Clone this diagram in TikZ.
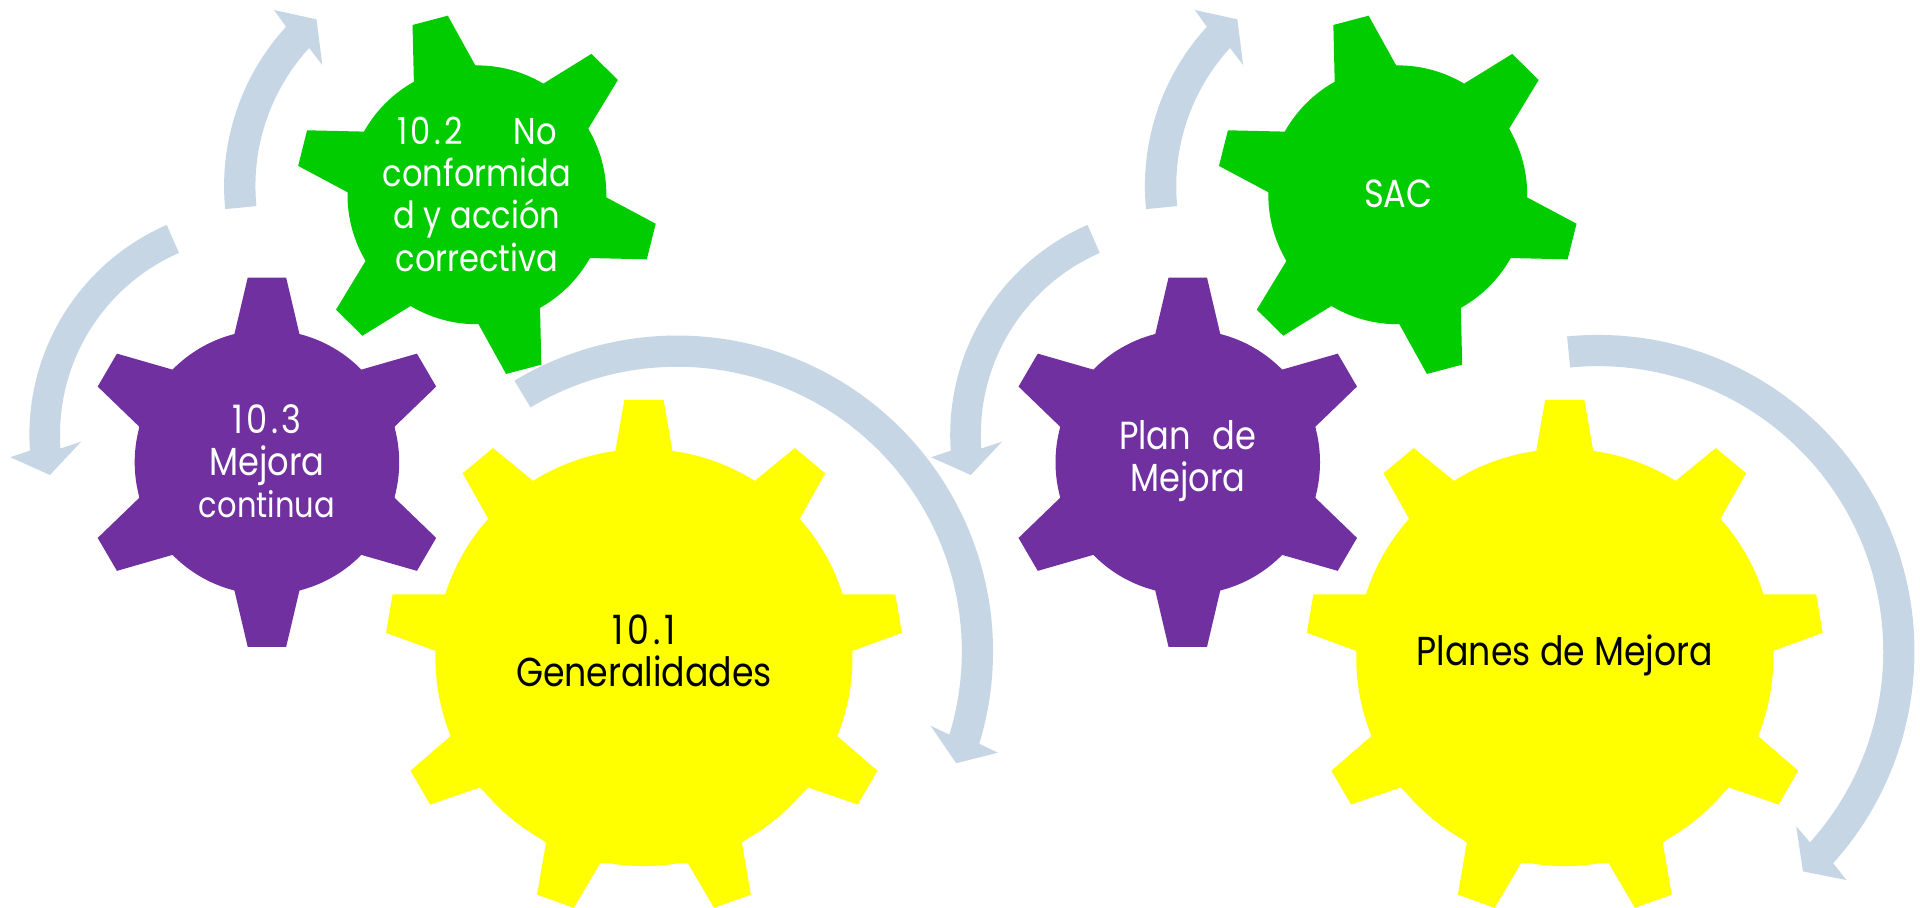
\documentclass[tikz,border=0pt]{standalone}
\usepackage{fontspec}
\setmainfont{Poppins}[FakeStretch=0.86]
\definecolor{arrowblue}{HTML}{C7D6E5}
\definecolor{gearpurple}{HTML}{7030A0}
\definecolor{geargreen}{HTML}{00CC00}
\definecolor{gearyellow}{HTML}{FFFF00}
\newcommand{\digits}[1]{{\addfontfeature{LetterSpace=9}#1}}
\tikzset{
  gearlabel/.style={align=center,inner sep=0pt,font=\fontsize{32}{34.5}\selectfont},
  whitelabel/.style={gearlabel,text=white},
  narrowlabel/.style={gearlabel,text=white,font=\fontsize{30.5}{34.5}\selectfont},
  blacklabel/.style={gearlabel,text=black,font=\fontsize{33}{34.5}\selectfont},
  arrowshape/.style={fill=arrowblue,draw=none}
}
% ring arrow: cx, cy, outer r, inner r, start angle, end angle, head (outer barb, tip, inner barb)
\newcommand{\ringarrow}[9]{%
  \fill[arrowshape] plot[domain=#5:#6,samples=90] ({#1+#3*cos(\x)},{#2+#3*sin(\x)})
    -- #7 -- #8 -- #9
    -- plot[domain=#6:#5,samples=90] ({#1+#4*cos(\x)},{#2+#4*sin(\x)}) -- cycle;}
\newcommand{\greengear}{%
  \fill[geargreen] (389.5,159.1) circle[radius=105.7pt];
  \fill[geargreen] (338,67)--(336.9,20.4)--(365.7,12.8)--(388.3,53.6)
    --(443.7,68.3)--(483,44)--(504.6,65.3)--(480.5,105)
    --(494.6,160.9)--(535.5,182.7)--(528.2,211.8)--(481.1,210.7)
    --(441,251.2)--(442.1,297.8)--(413.3,305.4)--(390.7,264.6)
    --(335.3,249.9)--(296,274.2)--(274.4,252.9)--(298.5,213.2)
    --(284.4,157.3)--(243.5,135.5)--(250.8,106.4)--(297.9,107.5)--cycle;}
\newcommand{\purplegear}{%
  \fill[gearpurple] (218,377.5) circle[radius=108pt];
  \fill[gearpurple] (191.4,273)--(202.3,226.7)--(233.7,226.7)--(244.6,273)
    --(294.6,302)--(340.5,288.8)--(356.2,315.7)--(322.3,348.4)
    --(322.3,406.6)--(356.2,439.3)--(340.5,466.2)--(294.6,453)
    --(244.6,482)--(233.7,528.3)--(202.3,528.3)--(191.4,482)
    --(141.4,453)--(95.5,466.2)--(79.8,439.3)--(113.7,406.6)
    --(113.7,348.4)--(79.8,315.7)--(95.5,288.8)--(141.4,302)--cycle;}
\newcommand{\yellowgear}{%
  \fill[gearyellow] (525.9,537) circle[radius=170.3pt];
  \fill[gearyellow] (502.5,368.7)--(509.9,326.6)--(541.9,326.6)--(549.2,368.7)
    --(616.2,392.9)--(649.2,365.9)--(673.9,386.5)--(652.9,423.9)
    --(687.9,485.5)--(731.2,485.5)--(736.5,516.8)--(696.2,531.5)
    --(683.9,601.2)--(716.5,629.4)--(700.5,657)--(660.2,643.2)
    --(605.9,688.3)--(613.2,730.6)--(583.2,741.4)--(561.5,704.6)
    --(490.3,704.6)--(468.6,741.4)--(438.6,730.6)--(445.9,688.3)
    --(391.6,643.2)--(351.3,657)--(335.3,629.4)--(367.9,601.2)
    --(355.6,531.5)--(315.3,516.8)--(320.6,485.5)--(363.9,485.5)
    --(398.9,423.9)--(377.9,386.5)--(402.6,365.9)--(435.6,392.9)--cycle;}
\begin{document}
\begin{tikzpicture}[x=1pt,y=-1pt]
\useasboundingbox (0,0) rectangle (1568,741.5);
\fill[white] (0,0) rectangle (1568,741.5);
% left group
\greengear \purplegear \yellowgear
\ringarrow{553}{532}{258}{232.5}{-121}{17}{(814.9,614.7)}{(780.9,623.3)}{(759.9,592.6)}
\ringarrow{211}{355}{187}{162}{246.4}{176}{(8.4,373.4)}{(40.8,387.9)}{(66.4,360.6)}
\ringarrow{375.6}{152}{192.6}{167}{174.4}{222.5}{(223.8,8.2)}{(258.5,15.8)}{(263.2,53.1)}
\node[narrowlabel] (t102) at (389.5,158.5) {\digits{10.2}\hspace{1.35em}No\\conformida\\d y acción\\correctiva};
\node[whitelabel] (t103) at (218,376.5) {\digits{10.3}\\Mejora\\{\fontsize{29}{34.5}\selectfont continua}};
\node[blacklabel] (t101) at (526,531.5) {\digits{10.1}\\Generalidades};
% right group
\begin{scope}[xshift=752pt]
\greengear \purplegear \yellowgear
\ringarrow{211}{355}{187}{162}{246.4}{176}{(8.4,373.4)}{(40.8,387.9)}{(66.4,360.6)}
\ringarrow{375.6}{152}{192.6}{167}{174.4}{222.5}{(223.8,8.2)}{(258.5,15.8)}{(263.2,53.1)}
\node[whitelabel] (sac) at (390,158) {SAC};
\node[whitelabel] (plan) at (218,376.5) {Plan\hspace{0.55em}de\\Mejora};
\node[blacklabel] (planes) at (526,535) {Planes de Mejora};
\end{scope}
\ringarrow{1305}{532}{258.5}{233}{-95.6}{42}{(1507.9,718.7)}{(1472.4,711.6)}{(1466.9,674.8)}
\end{tikzpicture}
\end{document}
